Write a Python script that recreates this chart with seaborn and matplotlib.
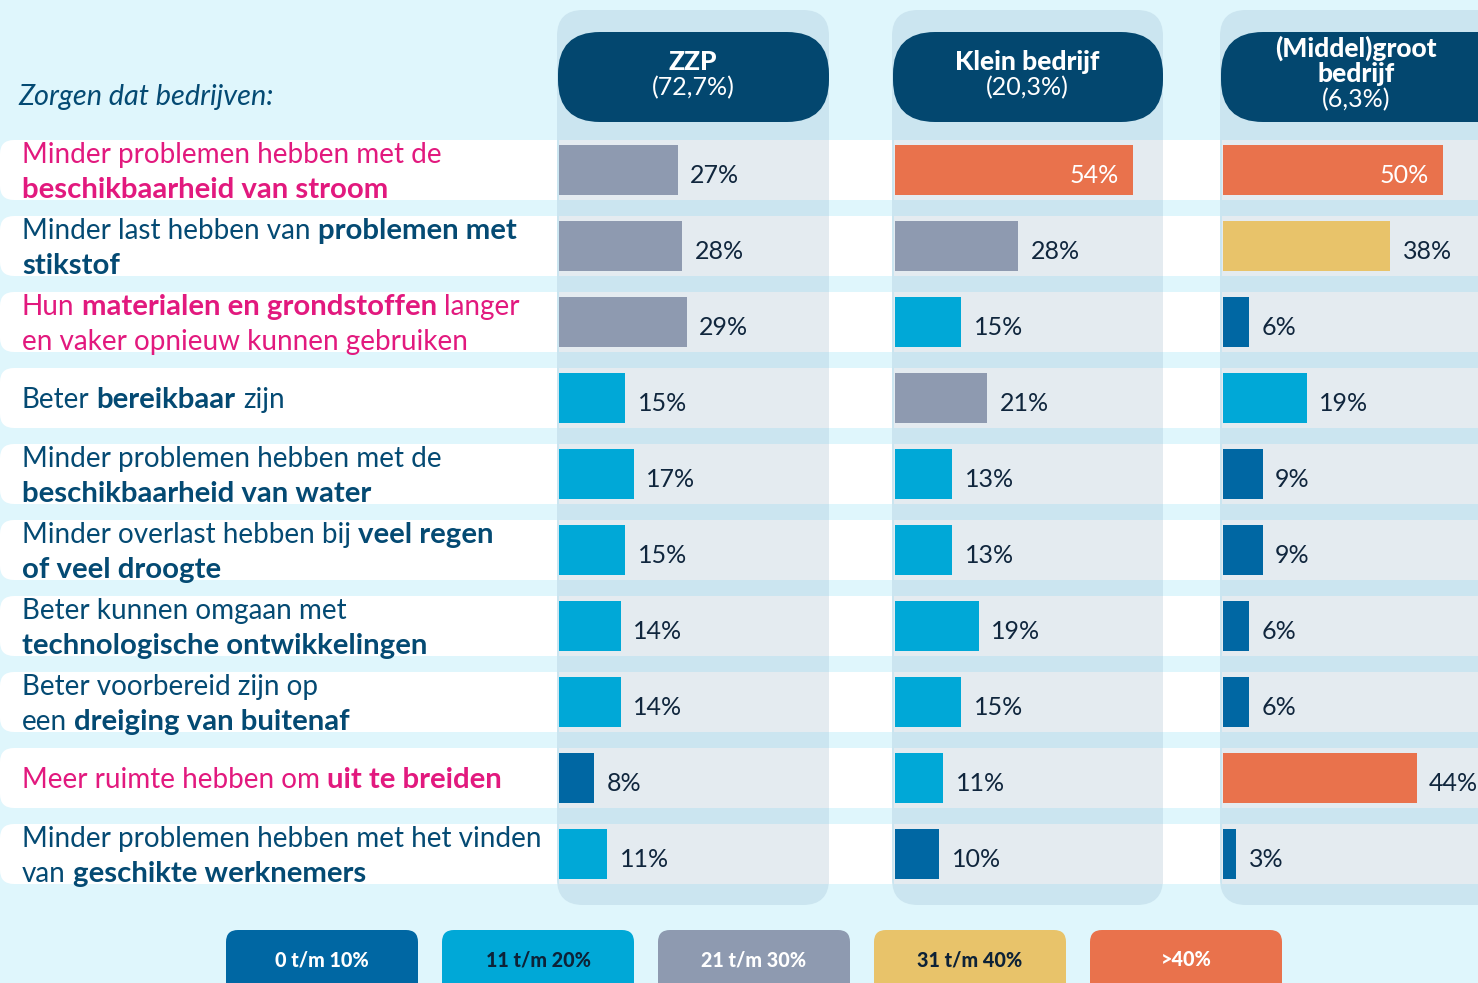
import matplotlib
matplotlib.use("Agg")
import matplotlib.pyplot as plt
import seaborn as sns
import pandas as pd
from matplotlib.patches import FancyBboxPatch, Rectangle

plt.rcParams['font.family'] = ['Lato', 'DejaVu Sans']

# data
rows = ["stroom", "stikstof", "materialen", "bereikbaar", "water",
        "regen", "technologie", "dreiging", "uitbreiden", "werknemers"]
zzp = [27, 28, 29, 15, 17, 15, 14, 14, 8, 11]
klein = [54, 28, 15, 21, 13, 13, 19, 15, 11, 10]
groot = [50, 38, 6, 19, 9, 9, 6, 6, 44, 3]
group_names = ["ZZP", "Klein bedrijf", "(Middel)groot\nbedrijf"]
group_shares = ["(72,7%)", "(20,3%)", "(6,3%)"]
bins = ["0 t/m 10%", "11 t/m 20%", "21 t/m 30%", "31 t/m 40%", ">40%"]
bin_colors = ["#0067a3", "#00a8d7", "#8e9ab0", "#e8c36a", "#e9724c"]
bin_text = ["white", "#0d2237", "white", "#0d2237", "white"]
intro = "Zorgen dat bedrijven:"

# row labels: lines of (text, bold) pieces
labels = [
    [[("Minder problemen hebben met de", False)], [("beschikbaarheid van stroom", True)]],
    [[("Minder last hebben van", False), ("problemen met", True)], [("stikstof", True)]],
    [[("Hun", False), ("materialen en grondstoffen", True), ("langer", False)],
     [("en vaker opnieuw kunnen gebruiken", False)]],
    [[("Beter", False), ("bereikbaar", True), ("zijn", False)]],
    [[("Minder problemen hebben met de", False)], [("beschikbaarheid van water", True)]],
    [[("Minder overlast hebben bij", False), ("veel regen", True)], [("of veel droogte", True)]],
    [[("Beter kunnen omgaan met", False)], [("technologische ontwikkelingen", True)]],
    [[("Beter voorbereid zijn op", False)], [("een", False), ("dreiging van buitenaf", True)]],
    [[("Meer ruimte hebben om", False), ("uit te breiden", True)]],
    [[("Minder problemen hebben met het vinden", False)], [("van", False), ("geschikte werknemers", True)]],
]
highlight = [True, False, True, False, False, False, False, False, True, False]


def bin_color(v):
    if v <= 10:
        return bin_colors[0]
    if v <= 20:
        return bin_colors[1]
    if v <= 30:
        return bin_colors[2]
    if v <= 40:
        return bin_colors[3]
    return bin_colors[4]


W, H = 1478, 983
BG = "#dff6fc"
PANEL = "#cbe5f0"
ROWGRAY = "#e4ebf0"
NAVY = "#03476f"
TEXT = "#044a73"
PINK = "#e2197e"
PX_PER_PCT = 4.4

fig = plt.figure(figsize=(W / 100, H / 100), dpi=100)
fig.patch.set_facecolor(BG)
bg = fig.add_axes([0, 0, 1, 1])
bg.set_xlim(0, W)
bg.set_ylim(H, 0)
bg.axis('off')

centers = [170 + 76 * i for i in range(len(rows))]

# white row bands
for c in centers:
    bg.add_patch(FancyBboxPatch((0, c - 30), W + 60, 60,
                                boxstyle="round,pad=0,rounding_size=14",
                                fc="white", ec="none"))

panel_l = [557, 892, 1220]
panel_r = [829, 1163, 1540]
bar_l = [559, 895, 1223]
head_cx = [693, 1027, 1356]

for k in range(3):
    l, r = panel_l[k], panel_r[k]
    bg.add_patch(FancyBboxPatch((l, 10), r - l, 895,
                                boxstyle="round,pad=0,rounding_size=26",
                                fc=PANEL, ec="none"))
    for c in centers:
        bg.add_patch(Rectangle((l + 2, c - 30), r - l - 2, 60, fc=ROWGRAY, ec="none"))
    bg.add_patch(FancyBboxPatch((l + 1, 32), r - l - 1, 90,
                                boxstyle="round,pad=0,rounding_size=42",
                                fc=NAVY, ec="none"))
    name_lines = group_names[k].split("\n")
    if len(name_lines) == 1:
        bg.text(head_cx[k], 62, name_lines[0], ha='center', va='center',
                color='white', fontsize=19, fontweight='black')
        bg.text(head_cx[k], 88, group_shares[k], ha='center', va='center',
                color='white', fontsize=18)
    else:
        bg.text(head_cx[k], 48, name_lines[0], ha='center', va='center',
                color='white', fontsize=19, fontweight='black')
        bg.text(head_cx[k], 74, name_lines[1], ha='center', va='center',
                color='white', fontsize=19, fontweight='black')
        bg.text(head_cx[k], 100, group_shares[k], ha='center', va='center',
                color='white', fontsize=18)

# left texts
renderer = fig.canvas.get_renderer()
LABEL_FS = 20.1
BOLD_FS = 21.2


def text_w(s, weight, size):
    t = bg.text(0, 0, s, fontsize=size, fontweight=weight)
    w = t.get_window_extent(renderer).width
    t.remove()
    return w


space = text_w("n n", 'normal', LABEL_FS) - text_w("nn", 'normal', LABEL_FS)

bg.text(18, 105, intro, fontsize=20.8, fontstyle='italic', color=TEXT, va='baseline')

for i, lines in enumerate(labels):
    c = centers[i]
    color = PINK if highlight[i] else TEXT
    ys = [c - 7, c + 28] if len(lines) == 2 else [c + 10]
    for y, segs in zip(ys, lines):
        x = 22
        for txt, bold in segs:
            t = bg.text(x, y, txt, color=color, va='baseline', ha='left',
                        fontsize=BOLD_FS if bold else LABEL_FS,
                        fontweight='bold' if bold else 'normal')
            x += t.get_window_extent(renderer).width + space

# bars
for k, vals in enumerate([zzp, klein, groot]):
    left = bar_l[k]
    right = min(panel_r[k], W)
    ax = fig.add_axes([left / W, 1 - 892 / H, (right - left) / W, (892 - 132) / H])
    df = pd.DataFrame({"row": rows, "pct": vals})
    sns.barplot(data=df, x="pct", y="row", hue="row", orient="h",
                palette={r_: bin_color(v) for r_, v in zip(rows, vals)},
                width=50 / 76, saturation=1, legend=False, ax=ax)
    ax.set_xlim(0, (right - left) / PX_PER_PCT)
    ax.set_ylim(len(rows) - 0.5, -0.5)
    ax.axis('off')
    for i, v in enumerate(vals):
        if v >= 50:
            ax.annotate(f"{v}%", (v, i), xytext=(-10, -4), textcoords='offset points',
                        ha='right', va='center', color='white', fontsize=18,
                        annotation_clip=False)
        else:
            ax.annotate(f"{v}%", (v, i), xytext=(9, -4), textcoords='offset points',
                        ha='left', va='center', color='#10263d', fontsize=18,
                        annotation_clip=False)

# legend
for k, lab in enumerate(bins):
    x0 = 226 + 216 * k
    bg.add_patch(FancyBboxPatch((x0, 930), 192, 80,
                                boxstyle="round,pad=0,rounding_size=12",
                                fc=bin_colors[k], ec="none"))
    bg.text(x0 + 96, 960, lab, ha='center', va='center', color=bin_text[k],
            fontsize=14.2, fontweight='black')

fig.savefig("out.png", dpi=100, facecolor=BG)
